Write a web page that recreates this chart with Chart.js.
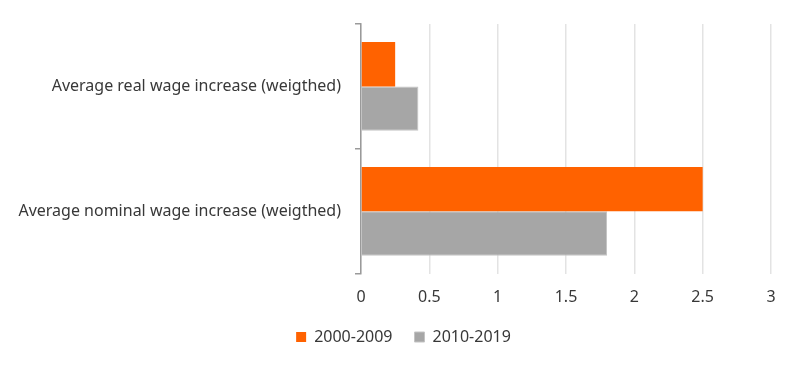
<!DOCTYPE html>
<html>
<head>
<meta charset="utf-8">
<script src="https://cdn.jsdelivr.net/npm/chart.js@4"></script>
<style>
  html, body { margin: 0; padding: 0; background: #fff; }
  #wrap { width: 800px; height: 368px; position: relative; }
</style>
</head>
<body>
<div id="wrap"><canvas id="wageChart"></canvas></div>
<script>
const categories = ['Average real wage increase (weigthed)', 'Average nominal wage increase (weigthed)'];
const decade1 = [0.25, 2.5];   // 2000-2009
const decade2 = [0.42, 1.8];   // 2010-2019
const seriesNames = ['2000-2009', '2010-2019'];

Chart.defaults.font.family = '"Noto Sans", "Open Sans", sans-serif';
Chart.defaults.font.size = 16;
Chart.defaults.color = '#383838';

// nudge the legend: shorter box, then moved right/up under the plot
const legendShift = { dx: 18, dy: -14, shrink: 1 };
const legendNudge = {
  id: 'legendNudge',
  beforeInit(chart) {
    const fit = chart.legend.fit;
    chart.legend.fit = function () {
      fit.call(this);
      this.height -= legendShift.shrink;
    };
  },
  afterLayout(chart) {
    const lg = chart.legend;
    lg.left += legendShift.dx; lg.right += legendShift.dx;
    lg.top += legendShift.dy; lg.bottom += legendShift.dy;
  }
};

const wageData = {
  labels: categories,
  datasets: [{
      label: seriesNames[0],
      data: decade1,
      backgroundColor: '#ff6200',
      borderWidth: 0
  }, {
      label: seriesNames[1],
      data: decade2,
      backgroundColor: '#a6a6a6',
      borderColor: '#c4c4c4',
      borderWidth: 1
  }]
};

const wageConfig = {
  type: 'bar',
  data: wageData,
  plugins: [legendNudge],
  options: {
    indexAxis: 'y',
    responsive: true,
    maintainAspectRatio: false,
    animation: false,
    categoryPercentage: 0.71,
    barPercentage: 1,
    layout: {
      padding: { left: 0, right: 29, top: 24, bottom: 0 }
    },
    plugins: {
      tooltip: { enabled: false },
      legend: {
        position: 'bottom',
        labels: {
          boxWidth: 10,
          boxHeight: 10,
          padding: 22,
          font: { size: 16 }
        }
      }
    },
    scales: {
      x: {
        min: 0,
        max: 3,
        ticks: {
          stepSize: 0.5,
          padding: 14,
          callback: (v) => String(v)
        },
        border: { display: false },
        grid: { color: '#e3e3e3', lineWidth: 1.5, drawTicks: false }
      },
      y: {
        afterFit: (axis) => { axis.width = 361; },
        border: { display: true, color: '#9a9a9a', width: 1.5 },
        grid: { offset: true, drawOnChartArea: false, tickLength: 6, color: '#9a9a9a', lineWidth: 1.5 },
        ticks: { padding: 14 }
      }
    }
  }
};

const wageChart = new Chart(
  document.getElementById('wageChart'),
  wageConfig
);
</script>
</body>
</html>
